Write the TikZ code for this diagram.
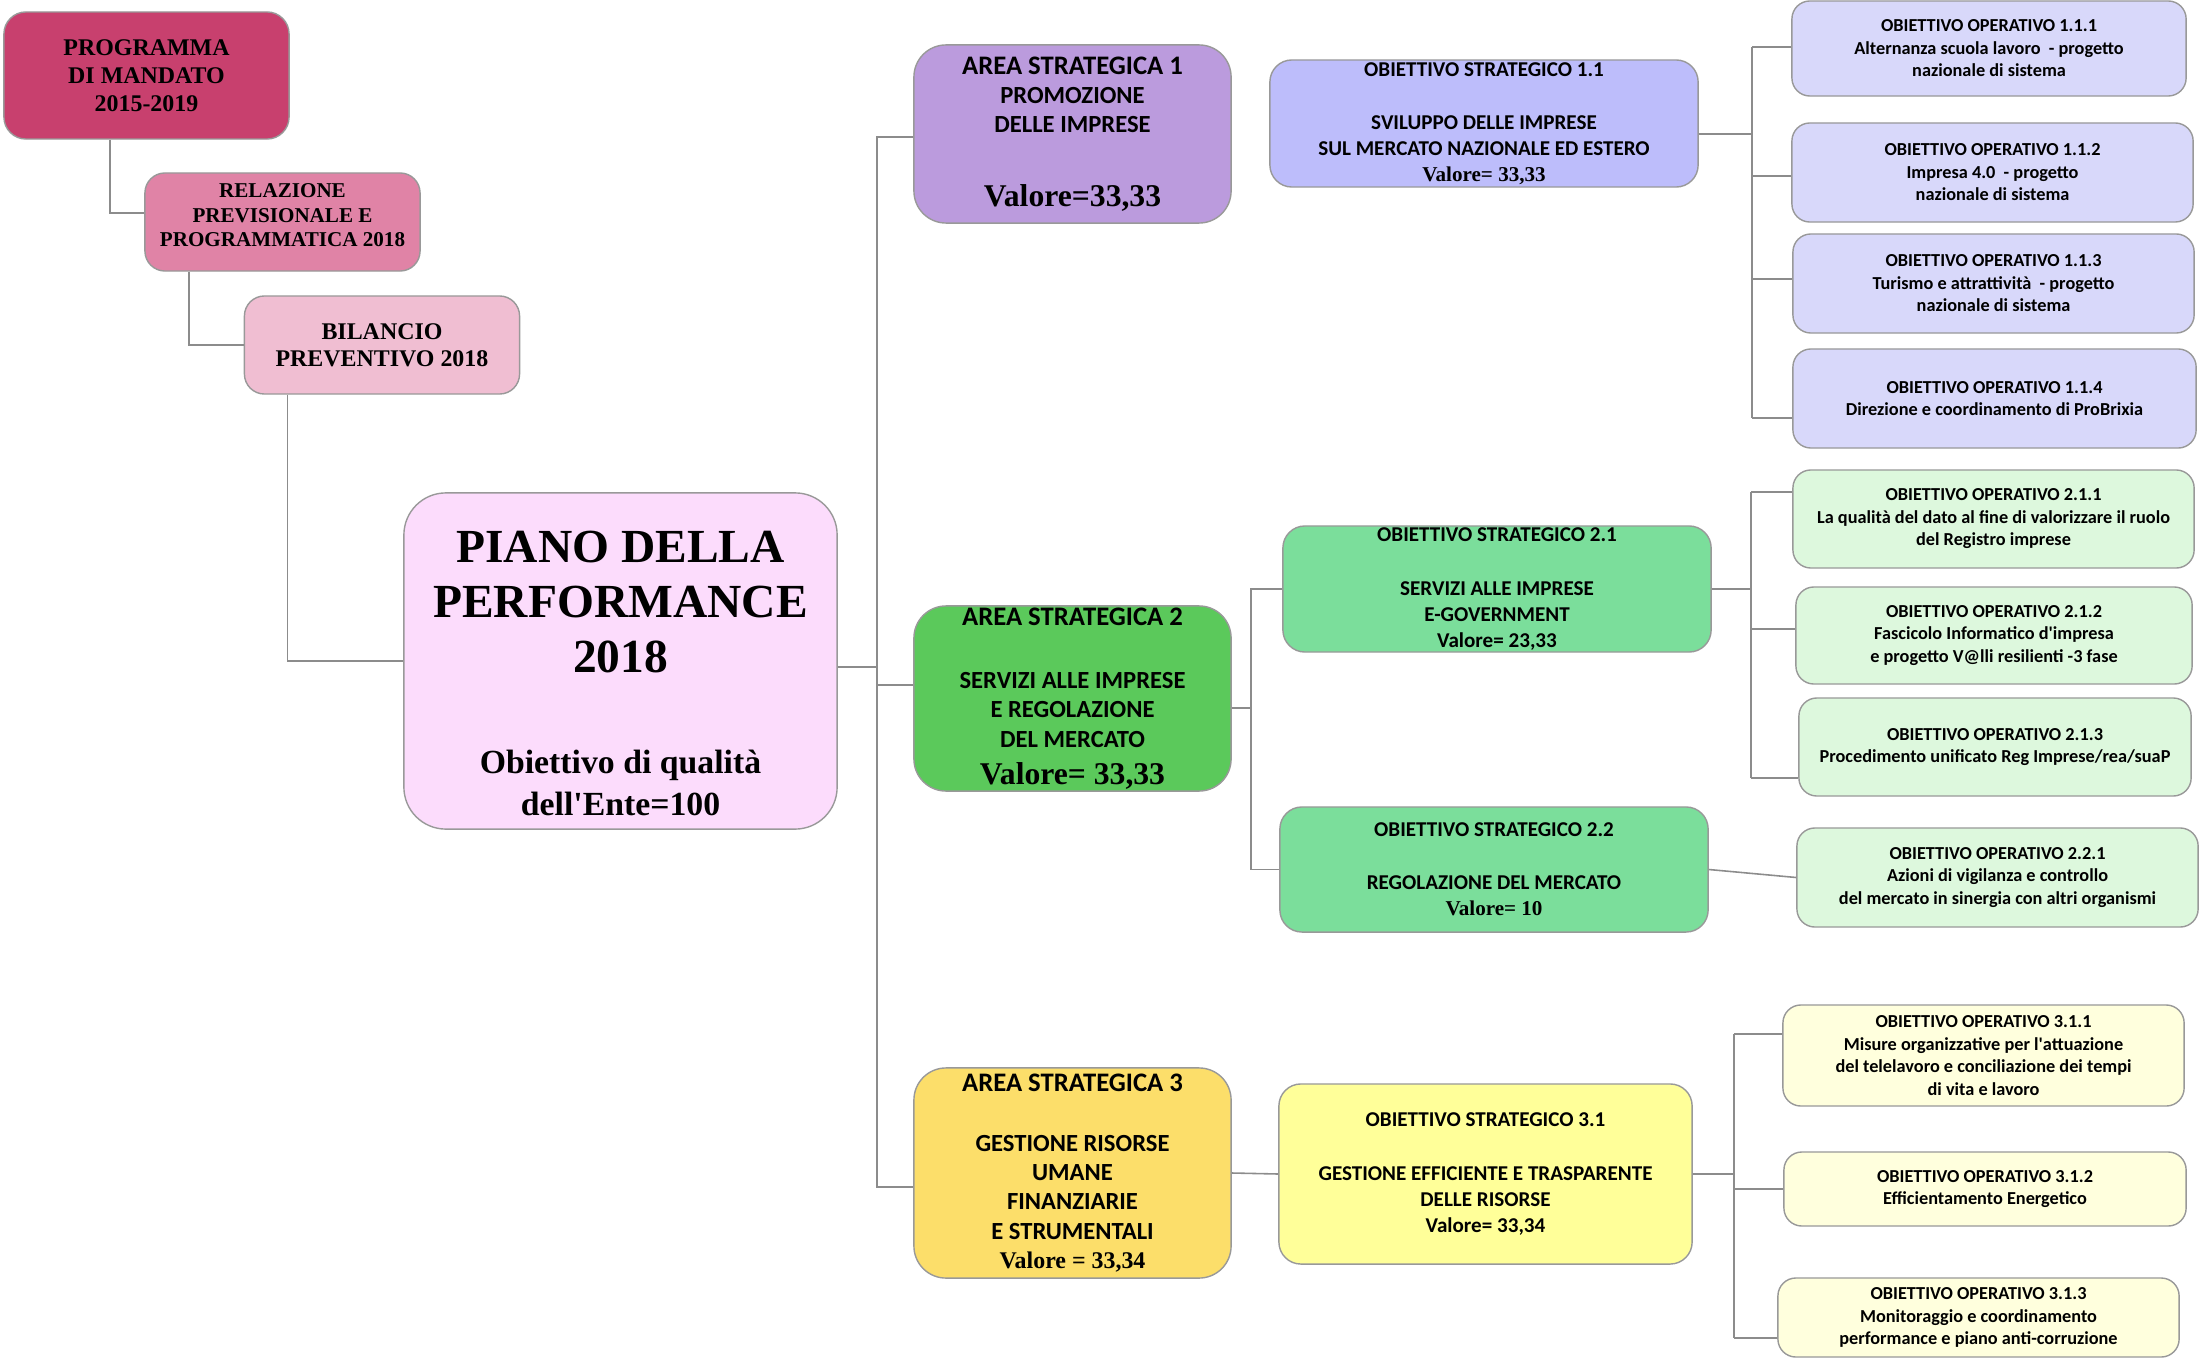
\documentclass[tikz,border=0pt]{standalone}
\usepackage{fontspec}
\setmainfont{Liberation Serif}
\newfontfamily\calibri{Carlito}
\usetikzlibrary{positioning,calc}

\definecolor{progcol}{HTML}{C8406E}
\definecolor{relcol}{HTML}{E083A6}
\definecolor{bilcol}{HTML}{F0BED2}
\definecolor{pianocol}{HTML}{FCDCFC}
\definecolor{as1col}{HTML}{BB9BDD}
\definecolor{os1col}{HTML}{BDBDFB}
\definecolor{oo1col}{HTML}{D8D8FA}
\definecolor{as2col}{HTML}{5BC95B}
\definecolor{os2col}{HTML}{7BDE9B}
\definecolor{oo2col}{HTML}{DDF8DD}
\definecolor{as3col}{HTML}{FCDE6A}
\definecolor{os3col}{HTML}{FFFF99}
\definecolor{oo3col}{HTML}{FFFFDD}

% serif figures inside the sans boxes
\newcommand{\val}[1]{\rmfamily\bfseries\fontsize{#1}{#1}\selectfont}
\newcommand{\areahead}{\fontsize{7.6pt}{8.3pt}\selectfont}

\tikzset{
  box/.style={draw=black!40, line width=0.4pt, align=center, inner sep=0pt, text=black},
  topbox/.style={box, rounded corners=0.2cm},
  areabox/.style={box, rounded corners=0.32cm, minimum width=3.17cm,
    font=\calibri\bfseries\fontsize{7pt}{8.3pt}\selectfont},
  osbox/.style={box, rounded corners=0.22cm, minimum width=4.28cm,
    font=\calibri\bfseries\fontsize{6pt}{7.4pt}\selectfont},
  oobox/.style={box, rounded corners=0.18cm, minimum width=4.01cm, minimum height=0.99cm,
    font=\calibri\bfseries\fontsize{5.2pt}{6.4pt}\selectfont},
  conn/.style={draw=black!45, line width=0.45pt}
}

\begin{document}
\begin{tikzpicture}[x=0.01cm, y=-0.01cm]
  \useasboundingbox (0,0) rectangle (2201,1358);

  % planning documents
  \node[topbox, fill=progcol, minimum width=2.85cm, minimum height=1.27cm, rounded corners=0.22cm,
    font=\bfseries\fontsize{6.8pt}{8pt}\selectfont] (prog) at (146.5,75.5)
    {PROGRAMMA\\DI MANDATO\\2015-2019};
  \node[topbox, fill=relcol, minimum width=2.75cm, minimum height=0.98cm] (rel) at (282.5,222) {};
  \node[align=center, inner sep=0pt, font=\bfseries\fontsize{6pt}{7pt}\selectfont]
    (reltext) at ([yshift=0.065cm]rel.center)
    {RELAZIONE\\PREVISIONALE E\\PROGRAMMATICA 2018};
  \node[topbox, fill=bilcol, minimum width=2.75cm, minimum height=0.98cm,
    font=\bfseries\fontsize{6.8pt}{7.7pt}\selectfont] (bil) at (382,345)
    {BILANCIO\\PREVENTIVO 2018};
  \node[topbox, fill=pianocol, minimum width=4.33cm, minimum height=3.36cm, rounded corners=0.42cm]
    (piano) at (620.5,661) {};
  \node[align=center, inner sep=0pt, font=\bfseries\fontsize{13.5pt}{15.6pt}\selectfont]
    (pianotext) at ([yshift=-0.125cm]piano.center)
    {PIANO DELLA\\PERFORMANCE\\2018\\[13.2pt]{\fontsize{9.6pt}{9.8pt}\selectfont Obiettivo di qualità}\\[-3.8pt]{\fontsize{9.6pt}{9.8pt}\selectfont dell\textquotesingle Ente=100}};

  % strategic areas
  \node[areabox, fill=as1col, minimum height=1.78cm] (as1) at (1072.5,134)
    {{\areahead AREA STRATEGICA 1}\\PROMOZIONE\\DELLE IMPRESE\\[12.6pt]{\val{9pt}Valore=33,33}};
  \node[areabox, fill=as2col, minimum height=1.85cm] (as2) at (1072.5,698.5)
    {{\areahead AREA STRATEGICA 2}\\[9.7pt]SERVIZI ALLE IMPRESE\\E REGOLAZIONE\\DEL MERCATO\\[2.3pt]{\val{9pt}Valore= 33,33}};
  \node[areabox, fill=as3col, minimum height=2.10cm] (as3) at (1072.5,1173)
    {{\areahead AREA STRATEGICA 3}\\[8.8pt]GESTIONE RISORSE\\UMANE\\FINANZIARIE\\E STRUMENTALI\\{\val{6.8pt}Valore = 33,34}};

  % strategic objectives
  \node[osbox, fill=os1col, minimum height=1.27cm] (os11) at (1484,123.5)
    {OBIETTIVO STRATEGICO 1.1\\[7.7pt]SVILUPPO DELLE IMPRESE\\SUL MERCATO NAZIONALE ED ESTERO\\{\val{6pt}Valore= 33,33}};
  \node[osbox, fill=os2col, minimum height=1.26cm] (os21) at (1497,589)
    {OBIETTIVO STRATEGICO 2.1\\[7.7pt]SERVIZI ALLE IMPRESE\\E-GOVERNMENT\\Valore= 23,33};
  \node[osbox, fill=os2col, minimum height=1.25cm] (os22) at (1494,869.5)
    {OBIETTIVO STRATEGICO 2.2\\[7.7pt]REGOLAZIONE DEL MERCATO\\{\val{6pt}Valore= 10}};
  \node[osbox, fill=os3col, minimum width=4.13cm, minimum height=1.80cm] (os31) at (1485.5,1174)
    {OBIETTIVO STRATEGICO 3.1\\[7.7pt]GESTIONE EFFICIENTE E TRASPARENTE\\DELLE RISORSE\\Valore= 33,34};

  % operational objectives
  \node[oobox, fill=oo1col, minimum width=3.94cm, minimum height=0.95cm] (oo111) at (1989,48.5)
    {OBIETTIVO OPERATIVO 1.1.1\\Alternanza scuola lavoro~ - progetto\\nazionale di sistema};
  \node[oobox, fill=oo1col] (oo112) at (1992.5,172.5)
    {OBIETTIVO OPERATIVO 1.1.2\\Impresa 4.0~ - progetto\\nazionale di sistema};
  \node[oobox, fill=oo1col] (oo113) at (1993.5,283.5)
    {OBIETTIVO OPERATIVO 1.1.3\\Turismo e attrattività~ - progetto\\nazionale di sistema};
  \node[oobox, fill=oo1col, minimum width=4.03cm] (oo114) at (1994.5,398.5)
    {OBIETTIVO OPERATIVO 1.1.4\\Direzione e coordinamento di ProBrixia};
  \node[oobox, fill=oo2col, minimum height=0.98cm] (oo211) at (1993.5,519)
    {OBIETTIVO OPERATIVO 2.1.1\\La qualità del dato al fine di valorizzare il ruolo\\del Registro imprese};
  \node[oobox, fill=oo2col, minimum width=3.96cm, minimum height=0.97cm] (oo212) at (1994,635.5)
    {OBIETTIVO OPERATIVO 2.1.2\\Fascicolo Informatico d\textquotesingle impresa\\e progetto V@lli resilienti -3 fase};
  \node[oobox, fill=oo2col, minimum width=3.92cm, minimum height=0.98cm] (oo213) at (1995,747)
    {OBIETTIVO OPERATIVO 2.1.3\\Procedimento unificato Reg Imprese/rea/suaP};
  \node[oobox, fill=oo2col] (oo221) at (1997.5,877.5)
    {OBIETTIVO OPERATIVO 2.2.1\\Azioni di vigilanza e controllo\\del mercato in sinergia con altri organismi};
  \node[oobox, fill=oo3col, minimum height=1.01cm] (oo311) at (1983.5,1055.5)
    {OBIETTIVO OPERATIVO 3.1.1\\Misure organizzative per l\textquotesingle attuazione\\del telelavoro e conciliazione dei tempi\\di vita e lavoro};
  \node[oobox, fill=oo3col, minimum width=4.02cm, minimum height=0.74cm] (oo312) at (1985,1189)
    {OBIETTIVO OPERATIVO 3.1.2\\Efficientamento Energetico};
  \node[oobox, fill=oo3col, minimum height=0.79cm] (oo313) at (1978.5,1317.5)
    {OBIETTIVO OPERATIVO 3.1.3\\Monitoraggio e coordinamento\\performance e piano anti-corruzione};

  % cascade on the left
  \coordinate (k1) at (110,213);
  \coordinate (k2) at (189,344);
  \coordinate (k3) at (287.5,660);
  \draw[conn] (prog.south -| k1) |- (rel.west |- k1);
  \draw[conn] (rel.south -| k2) |- (bil.west);
  \draw[conn] (bil.south -| k3) |- (piano.west);

  % trunk to the areas
  \coordinate (t0) at (877,667);
  \coordinate (t1) at (877,137);
  \coordinate (t2) at (877,685);
  \coordinate (t3) at (877,1187);
  \draw[conn] (piano.east |- t0) -- (t0);
  \draw[conn] (as1.west |- t1) -- (t1) -- (t3) -- (as3.west |- t3);
  \draw[conn] (t2) -- (as2.west |- t2);

  % areas to strategic objectives
  \coordinate (b2) at (1251,708);
  \draw[conn] (as2.east |- b2) -- (b2);
  \draw[conn] (os21.west) -| (b2 |- os22.west) -- (os22.west);
  \draw[conn] (as3.east) -- (os31.west);

  % strategic to operational objectives
  \coordinate (c1) at (1752,134);
  \draw[conn] (os11.east |- c1) -- (c1);
  \foreach \n/\y in {111/47,112/176,113/279,114/418}{
    \coordinate (c\n) at (1752,\y);
    \draw[conn] (c\n) -- (oo\n.west |- c\n);
  }
  \draw[conn] (c111) -- (c114);

  \foreach \n/\y in {211/492,212/629,213/778}{
    \coordinate (c\n) at (1751,\y);
    \draw[conn] (c\n) -- (oo\n.west |- c\n);
  }
  \draw[conn] (c211) -- (c213);
  \draw[conn] (os21.east) -- (os21.east -| c211);
  \draw[conn] (os22.east) -- (oo221.west);

  \foreach \n/\y in {311/1034,312/1189,313/1338}{
    \coordinate (c\n) at (1734,\y);
    \draw[conn] (c\n) -- (oo\n.west |- c\n);
  }
  \draw[conn] (c311) -- (c313);
  \draw[conn] (os31.east) -- (os31.east -| c311);
\end{tikzpicture}
\end{document}
